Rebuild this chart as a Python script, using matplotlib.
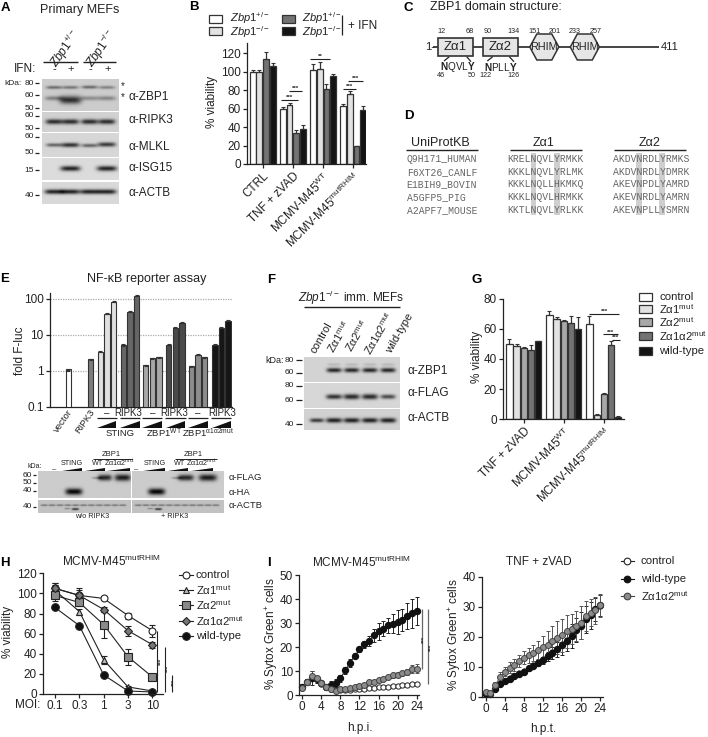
import numpy as np
import matplotlib
matplotlib.use("Agg")
import matplotlib.pyplot as plt
from matplotlib.patches import Rectangle, Polygon

plt.rcParams['font.family'] = ['Liberation Sans', 'DejaVu Sans']
plt.rcParams['mathtext.fontset'] = 'custom'
plt.rcParams['mathtext.rm'] = 'Liberation Sans'
plt.rcParams['mathtext.it'] = 'Liberation Sans:italic'
plt.rcParams['mathtext.bf'] = 'Liberation Sans:bold'
plt.rcParams['font.size'] = 8.5
plt.rcParams['axes.linewidth'] = 0.9
plt.rcParams['axes.edgecolor'] = '#222222'

W, H = 708, 737
DARK = '#222222'

# ======Panel B data======
b_groups = ['CTRL', 'TNF + zVAD', 'MCMV-M45$^{\\mathrm{WT}}$', 'MCMV-M45$^{\\mathrm{mutRHIM}}$']
b_het = [100, 60, 102, 63]
b_ko = [100, 64, 102.5, 76]
b_het_ifn = [114, 34, 81, 19]
b_ko_ifn = [106, 38, 95, 59]
b_het_err = [2, 2, 6, 2]
b_ko_err = [2, 2, 8, 3]
b_het_ifn_err = [7, 3, 6, 1]
b_ko_ifn_err = [4, 4, 3, 4]

# ======Panel D data======
d_ids = ['Q9H171_HUMAN', 'F6XT26_CANLF', 'E1BIH9_BOVIN', 'A5GFP5_PIG', 'A2APF7_MOUSE']
d_za1 = ['KRELNQVLYRMKK', 'KKKLNQVLYRLMK', 'KKKLNQLLHKMKQ', 'KKKLNQVLHRMKK', 'KKTLNQVLYRLKK']
d_za2 = ['AKDVNRDLYRMKS', 'AKDVNRDLYDMRK', 'AKEVNPDLYAMRD', 'AKEVNRDLYAMRN', 'AKEVNPLLYSMRN']

# ======Panel E data======
e_vector = [1]
e_ripk3 = [2]
e_sting = [3.3, 38, 82]
e_sting_r = [5, 43, 118]
e_wt = [1.35, 2.15, 2.25]
e_wt_r = [5.1, 15.5, 21.5]
e_mut = [1.25, 2.7, 2.3]
e_mut_r = [5.2, 15, 24]

# ======Panel G data======
g_groups = ['TNF + zVAD', 'MCMV-M45$^{\\mathrm{WT}}$', 'MCMV-M45$^{\\mathrm{mutRHIM}}$']
g_control = [50, 69, 63.5]
g_za1 = [48.5, 66.5, 3]
g_za2 = [47.5, 65, 17]
g_za1a2 = [46, 64, 49]
g_wt = [52, 60, 1.5]
g_control_err = [3.5, 3, 5]
g_za1_err = [1.2, 1.5, 0.4]
g_za2_err = [0.4, 1, 0.3]
g_za1a2_err = [3.5, 4.5, 3]
g_wt_err = [0.3, 8, 0.2]

# ======Panel H data======
h_moi = ['0.1', '0.3', '1', '3', '10']
h_control = [105, 98, 95, 78, 63]
h_za1 = [103, 82, 34, 7, 3]
h_za2 = [98, 91, 69, 37, 17]
h_za1a2 = [105, 98, 84, 63, 49]
h_wt = [86, 68, 19, 3, 2]
h_control_err = [5, 7, 2, 3, 6]
h_za1_err = [5, 3, 4, 1, 1]
h_za2_err = [6, 4, 13, 8, 2]
h_za1a2_err = [5, 5, 2, 5, 3]
h_wt_err = [1, 1, 1, 1, 1]

# ======Panel I data======
i_hours = list(range(25))
i1_wt = [3.5, 5.5, 7, 6.5, 5, 3.5, 4.2, 5, 7, 10.3, 13.3, 16.3, 19, 21.2, 22.5, 24.8, 26.5, 27.7, 29, 29.7, 30.5, 31.2, 33, 34, 35]
i1_wt_err = [1, 1, 2.8, 1.5, 1, 1, 1.5, 1.5, 1.5, 1.5, 1.5, 1, 1, 1.5, 2, 2.7, 3.4, 3.2, 3, 4, 5, 4.5, 5.5, 6, 6]
i1_mut = [3, 5.5, 8, 7, 5, 3.2, 2.3, 1.8, 2.3, 2.4, 2.8, 3.4, 3.8, 4.2, 5.3, 5.6, 6.1, 6.8, 7.4, 8.2, 8.4, 9.1, 9.5, 10.8, 11]
i1_mut_err = [1, 1, 2, 1, 1, 1, 1, 1, 0.7, 0.7, 0.7, 0.7, 0.7, 0.7, 0.8, 0.8, 0.8, 0.8, 0.9, 1, 1, 1, 1.2, 1.5, 1.8]
i1_control = [3, 5.5, 7.5, 6.5, 4.7, 3.2, 2.5, 2.2, 2.2, 2, 2.2, 2.3, 2.5, 2.6, 2.8, 3, 3.2, 3.4, 3.5, 3.7, 3.8, 4, 4.2, 4.5, 4.7]
i2_wt = [0.8, 1, 2.6, 4.2, 5.2, 6, 6.9, 7.7, 8.3, 9.5, 10.3, 11.2, 12.2, 13.5, 14.5, 15.8, 17.4, 18.7, 20.4, 22.2, 23.6, 25.8, 27.2, 29.2, 30.5]
i2_wt_err = [0.5, 0.5, 0.5, 0.5, 0.5, 0.5, 0.5, 0.5, 0.5, 0.7, 0.8, 1, 1.2, 1.5, 2, 2.5, 3.5, 3.5, 4, 4, 4.5, 4.5, 4.5, 3.8, 3.5]
i2_mut = [1.6, 1.2, 3.8, 6.6, 8.3, 9.7, 10.6, 11.8, 13, 13.9, 14.6, 15.7, 16.6, 17.4, 18.6, 19.6, 20.5, 21.8, 22.5, 23.5, 24.7, 26.8, 28, 28.8, 30.5]
i2_mut_err = [0.8, 0.7, 1, 1.5, 1.5, 1.8, 2, 2, 2.2, 2.5, 2.8, 3, 3.5, 4.5, 5, 5.5, 5.5, 5.5, 5, 5, 5.5, 5, 4.5, 4.5, 3.8]
i2_control = [0.9, 1, 2.7, 4.3, 5.3, 6.2, 7, 7.9, 8.5, 9.7, 10.5, 11.5, 12.5, 13.8, 14.8, 16, 17.6, 19, 20.7, 22.4, 23.8, 26, 27.4, 29.3, 30.4]

fig = plt.figure(figsize=(W / 100, H / 100), dpi=100, facecolor='white')


def ax_px(left, top, right, bottom):
    # axes placed by pixel box of the picture
    a = fig.add_axes([left / W, 1 - bottom / H, (right - left) / W, (bottom - top) / H])
    a.patch.set_alpha(0)
    for s in ['top', 'right']:
        a.spines[s].set_visible(False)
    a.tick_params(length=3, width=0.9, pad=1.5, color=DARK, labelcolor=DARK)
    return a


# overlay for labels, blots and other annotation
ov = fig.add_axes([0, 0, 1, 1], zorder=5)
ov.set_xlim(0, W)
ov.set_ylim(H, 0)
ov.axis('off')
ov.patch.set_alpha(0)


def txt(x, y, s, size=8.5, ha='center', va='center', **kw):
    kw.setdefault('color', DARK)
    ov.text(x, y, s, fontsize=size, ha=ha, va=va, **kw)


def seg(x0, y0, x1, y1, lw=0.9, c=DARK):
    ov.plot([x0, x1], [y0, y1], color=c, lw=lw, solid_capstyle='butt')


def blot(box, bands, bg=0.8):
    # bands are (center x, center y, half width, half height, strength)
    x0, y0, x1, y1 = box
    xs = np.linspace(x0, x1, int((x1 - x0) * 2))
    ys = np.linspace(y0, y1, int((y1 - y0) * 2))
    xx, yy = np.meshgrid(xs, ys)
    img = np.full(xx.shape, bg, dtype=float)
    for cx, cy, hw, hh, s in bands:
        img -= s * np.exp(-np.abs((xx - cx) / hw) ** 4) * np.exp(-((yy - cy) / hh) ** 2)
    ov.imshow(np.clip(img, 0, 1), extent=(x0, x1, y1, y0), cmap='gray', vmin=0, vmax=1,
              aspect='auto', interpolation='bilinear', zorder=1)
    ov.set_xlim(0, W)
    ov.set_ylim(H, 0)


def ladder(items, xr, x0, x1):
    for label, y in items:
        txt(xr, y, label, size=6, ha='right')
        seg(x0, y, x1, y)


def sig(x0, x1, y, star_y=None):
    seg(x0, y, x1, y, lw=0.8)
    txt((x0 + x1) / 2, y - 2.2 if star_y is None else star_y, '***', size=4.5, fontweight='bold')


# ======Panel A======
txt(5, 8, 'A', size=9.5, fontweight='bold', color='black')
txt(80, 10, 'Primary MEFs', size=9)
txt(66, 49, '$\\mathit{Zbp1}^{+/-}$', rotation=55, size=8.5)
txt(102, 49, '$\\mathit{Zbp1}^{-/-}$', rotation=55, size=8.5)
seg(43.3, 61.7, 77.7, 61.7, lw=1)
seg(82.7, 61.7, 116.3, 61.7, lw=1)
txt(36.7, 69.3, 'IFN:', ha='right', size=8.5)
a_lanes = [54.3, 70.7, 90, 107.3]
for xl, s in zip(a_lanes, ['-', '+', '-', '+']):
    txt(xl, 69.3, s, size=8)
blot((42.3, 79, 119.3, 111), [(a_lanes[0], 87.3, 8, 1.6, .38), (a_lanes[1], 87.3, 8, 1.6, .35),
                             (a_lanes[2], 87, 8, 1.6, .4), (a_lanes[3], 87.3, 8, 1.6, .3),
                             (a_lanes[0], 98.3, 9, 2.2, .3), (a_lanes[1], 100, 11, 4, .62),
                             (a_lanes[2], 98.3, 9, 2.2, .25), (a_lanes[3], 98.3, 9, 2.2, .28)], bg=.8)
blot((42.3, 112.3, 119.3, 131.7), [(x, 121.7, 8.5, 2.5, .65) for x in a_lanes], bg=.82)
blot((42.3, 133.3, 119.3, 156.7), [(a_lanes[0], 145, 8, 1.8, .45), (a_lanes[1], 145, 9, 2.2, .65),
                                  (a_lanes[2], 145.5, 8, 1.8, .45), (a_lanes[3], 144.5, 9, 2.2, .62)], bg=.84)
blot((42.3, 158.7, 119.3, 180.3), [(a_lanes[1], 169, 10, 2.6, .72), (a_lanes[3], 169, 10, 2.6, .72)], bg=.86)
blot((42.3, 182, 119.3, 204), [(x, 191.7, 9.5, 2.4, .72) for x in a_lanes], bg=.85)
txt(4, 83.3, 'kDa:', size=6, ha='left')
ladder([('80', 83.3), ('60', 95), ('50', 108.3), ('60', 115.7), ('50', 128.3), ('60', 136.7),
        ('50', 152.7), ('15', 170), ('40', 195)], 34.3, 35.3, 39.3)
for y, s in [(96.7, 'ZBP1'), (120, 'RIPK3'), (146.7, 'MLKL'), (168.3, 'ISG15'), (193.3, 'ACTB')]:
    txt(128.3, y, 'α-' + s, ha='left', size=8.5)
txt(123, 86.5, '*', size=7)
txt(123, 97, '*', size=7)

# ======Panel B======
txt(194, 7, 'B', size=9.5, fontweight='bold', color='black')
axb = ax_px(247, 43.3, 366, 164)
b_colors = ['white', '#e2e2e2', '#737373', '#141414']
b_series = [(b_het, b_het_err), (b_ko, b_ko_err), (b_het_ifn, b_het_ifn_err), (b_ko_ifn, b_ko_ifn_err)]
b_step = 4.5
for j, (vals, errs) in enumerate(b_series):
    xs = [g * b_step + j for g in range(len(b_groups))]
    axb.bar(xs, vals, width=0.86, color=b_colors[j], edgecolor='#333333', linewidth=0.9)
    axb.errorbar(xs, vals, yerr=[[0] * len(errs), errs], fmt='none', ecolor='#333333', elinewidth=0.9,
                 capsize=1.3, capthick=0.8)
axb.set_xlim(-0.84, 16.9)
axb.set_ylim(0, 130.9)
axb.set_yticks(range(0, 121, 20))
axb.set_xticks([g * b_step + 1.5 for g in range(len(b_groups))])
axb.set_xticklabels(b_groups, rotation=45, ha='right', rotation_mode='anchor', fontsize=8.5)
txt(211.7, 101.7, '% viability', rotation=90, size=8.5)
for x0, x1, y, c in [(209, 222.3, 15, 'white'), (209, 222.3, 27.3, '#e2e2e2'),
                     (281.7, 295, 15, '#737373'), (281.7, 295, 27.3, '#141414')]:
    ov.add_patch(Rectangle((x0, y), x1 - x0, 8, fc=c, ec='#333333', lw=0.9))
for x in [230, 301.7]:
    txt(x, 18.5, '$\\mathit{Zbp1}^{+/-}$', ha='left', size=8)
    txt(x, 32, '$\\mathit{Zbp1}^{-/-}$', ha='left', size=8)
seg(341.7, 15, 341.7, 35, lw=0.9)
txt(348.3, 26, '+ IFN', ha='left', size=8.5)
sig(281, 298.3, 100)
sig(289.3, 301.7, 91)
seg(310, 59.3, 330, 59.3, lw=0.8)
txt(320, 56.5, '**', size=4.5, fontweight='bold')
sig(342.7, 356, 89)
sig(348.3, 362.7, 81)

# ======Panel C======
txt(408.5, 7.5, 'C', size=9.5, fontweight='bold', color='black')
txt(430, 6.7, 'ZBP1 domain structure:', ha='left', size=9)
seg(433.3, 47, 659.3, 47, lw=1.4, c='#444444')
for x0, x1, s in [(438, 472.7, 'Zα1'), (483, 518, 'Zα2')]:
    ov.add_patch(Rectangle((x0, 38), x1 - x0, 18, fc='#e6e6e6', ec='#333333', lw=1.2, zorder=3))
    ov.text((x0 + x1) / 2, 47, s, fontsize=9.5, ha='center', va='center', color=DARK, zorder=4)
for cx in [544.3, 584.8]:
    hexa = [(cx - 14.5, 47), (cx - 7.5, 34), (cx + 7.5, 34), (cx + 14.5, 47), (cx + 7.5, 60), (cx - 7.5, 60)]
    ov.add_patch(Polygon(hexa, closed=True, fc='#e6e6e6', ec='#333333', lw=1.1, zorder=3))
    ov.text(cx, 47, 'RHIM', fontsize=7.8, ha='center', va='center', color=DARK, zorder=4)
for x, s in [(441.7, '12'), (470, '68'), (487.3, '90'), (514, '134'), (534.3, '151'), (554.3, '201'),
             (575, '233'), (596, '257')]:
    txt(x, 31.7, s, size=5.2)
txt(430, 47, '1-', size=8, ha='center')
txt(670, 47, '411', size=8)
txt(458.3, 66.7, '$\\mathbf{N}$QVL$\\mathbf{Y}$', size=7.2)
txt(501, 66.7, '$\\mathbf{N}$PLL$\\mathbf{Y}$', size=7.2)
for x, s in [(441, '46'), (471.7, '50'), (485.7, '122'), (513.3, '126')]:
    txt(x, 75.3, s, size=5.2)
seg(449.3, 56.7, 444, 61)
seg(466.7, 56.7, 471, 61.7)
seg(492.7, 56.7, 487.3, 61)
seg(509.3, 56.7, 514, 61.7)

# ======Panel D======
txt(408.7, 116.3, 'D', size=9.5, fontweight='bold', color='black')
txt(440.7, 142.7, 'UniProtKB', size=9)
txt(544, 142.7, 'Zα1', size=9)
txt(650, 142.7, 'Zα2', size=9)
seg(406, 150.3, 477.7, 150.3, lw=1)
seg(510.3, 150.3, 581.7, 150.3, lw=1)
seg(614.3, 150.3, 686, 150.3, lw=1)
d_rows = [159, 171.7, 184.3, 197, 210]
d_char = 5.82
for left in [507.3, 612.7]:
    for col in [4, 8]:
        ov.add_patch(Rectangle((left + col * d_char, 152.7), d_char, 62.3, fc='#cfcfcf', ec='none', zorder=1))
for y, name, s1, s2 in zip(d_rows, d_ids, d_za1, d_za2):
    txt(406.7, y, name, size=7, ha='left', family='Liberation Mono', color='#666666', zorder=3)
    txt(507.3, y, s1, size=7, ha='left', family='Liberation Mono', color='#666666', zorder=3)
    txt(612.7, y, s2, size=7, ha='left', family='Liberation Mono', color='#666666', zorder=3)

# ======Panel E======
txt(4.7, 279.3, 'E', size=9.5, fontweight='bold', color='black')
txt(146.7, 279.3, 'NF-κB reporter assay', size=9)
axe = ax_px(50, 292.7, 232, 406.7)
e_sets = [e_vector, e_ripk3, e_sting, e_sting_r, e_wt, e_wt_r, e_mut, e_mut_r]
e_cols = ['white', '#7d7d7d', '#e0e0e0', '#666666', '#a8a8a8', '#4a4a4a', '#8c8c8c', '#161616']
e_starts = [-3.42, 0, 1.47, 4.98, 8.38, 11.87, 15.3, 18.9]
for vals, col, st in zip(e_sets, e_cols, e_starts):
    xs = [st + i for i in range(len(vals))]
    axe.bar(xs, vals, width=0.82, bottom=0.1, color=col, edgecolor='#333333', linewidth=0.8, zorder=3)
    axe.errorbar(xs, vals, yerr=[[0] * len(vals), [v * 0.07 for v in vals]], fmt='none', ecolor='#333333',
                 elinewidth=0.8, capsize=1.1, capthick=0.8, zorder=3)
axe.set_yscale('log')
axe.set_ylim(0.1, 147)
axe.set_xlim(-6.2, 21.5)
axe.set_yticks([0.1, 1, 10, 100])
axe.set_yticklabels(['0.1', '1', '10', '100'])
axe.minorticks_off()
axe.set_xticks([])
for v in [1, 10, 100]:
    axe.axhline(v, color='#aaaaaa', lw=0.9, ls=(0, (1, 1)), zorder=1)
txt(20, 351, 'fold F-luc', rotation=90, size=8.5)
txt(63.3, 421, 'vector', rotation=55, size=6.8)
txt(85, 421, 'RIPK3', rotation=55, size=6.8)
for x, s in [(106.7, '–'), (128.3, 'RIPK3'), (152.3, '–'), (174.3, 'RIPK3'), (197.7, '–'), (221.7, 'RIPK3')]:
    txt(x, 413.3, s, size=7)
for x0, x1 in [(96.5, 116.5), (119.5, 140), (141.7, 162.3), (165, 185.7), (187.7, 208.3), (211, 231)]:
    seg(x0, 418.3, x1, 418.3, lw=0.9)
    ov.add_patch(Polygon([(x0 + 0.5, 427.5), (x1 - 0.5, 427.5), (x1 - 0.5, 420.5)], closed=True, fc='#111111', ec='none'))
txt(120, 433.7, 'STING', size=6.8)
txt(164.3, 433.7, 'ZBP1$^{\\mathrm{WT}}$', size=6.8)
txt(208.3, 433.7, 'ZBP1$^{\\mathrm{\\alpha1\\alpha2mut}}$', size=6.8)

# lower blots of E
e_flag_l = [(97, 478.3, 5, 1, .25), (105, 478, 7, 3, .65), (123, 478, 8, 3.3, .7)]
e_flag_r = [(177, 478.3, 5, 1, .25), (186, 478, 8, 3, .65), (208, 478, 9, 3.3, .7)]
for x0, x1, flag, ha_x, actb in [(38.3, 131, e_flag_l, 74, 71.5), (132.3, 224, e_flag_r, 156.7, 154.5)]:
    blot((x0, 471.7, x1, 485), flag, bg=.8)
    blot((x0, 486, x1, 498.3), [(ha_x, 492.3, 8.5, 3.2, .78)], bg=.8)
    lanes = [x0 + 6 + i * (x1 - x0 - 10) / 10.5 for i in range(11)]
    blot((x0, 500, x1, 512.7), [(xl, 505, 3.5, 0.9, .32) for xl in lanes] + [(actb + 4, 509, 3.5, 1, .6), (actb - 4, 508.5, 3, .6, .3)], bg=.76)
txt(111, 454.3, 'ZBP1', size=5.5)
txt(193.3, 454.3, 'ZBP1', size=5.5)
seg(92.7, 459, 132, 459, lw=0.7)
seg(175, 459, 216.7, 459, lw=0.7)
for x, s in [(71.7, 'STING'), (155, 'STING'), (97.3, 'WT'), (180, 'WT'),
             (120, 'Zα1α2$^{\\mathrm{mut}}$'), (201.7, 'Zα1α2$^{\\mathrm{mut}}$')]:
    txt(x, 463.3, s, size=5.2)
txt(35, 466, 'kDa:', size=5)
txt(54, 470, '–', size=5.5)
txt(135.7, 470, '–', size=5.5)
for x0, x1 in [(61.7, 81.7), (85, 105), (107, 130), (143, 165), (168, 188), (190.7, 213)]:
    ov.add_patch(Polygon([(x0, 471), (x1, 471), (x1, 467.5)], closed=True, fc='#111111', ec='none'))
ladder([('60', 475), ('50', 482.7), ('40', 490.7), ('40', 506.7)], 32, 33, 36)
for y, s in [(477.3, 'FLAG'), (492.3, 'HA'), (505, 'ACTB')]:
    txt(228.3, y, 'α-' + s, size=6.8, ha='left')
txt(91.7, 517, 'w/o RIPK3', size=5.2)
txt(175, 517, '+ RIPK3', size=5.2)

# ======Panel F======
txt(270.7, 280, 'F', size=9.5, fontweight='bold', color='black')
txt(351.7, 297.7, '$\\mathit{Zbp1}^{-/-}$ imm. MEFs', size=8.5)
seg(304, 306.7, 400, 306.7, lw=1)
for x, y, s in [(321.7, 337.5, 'control'), (339, 336.5, 'Zα1$^{\\mathrm{mut}}$'), (357, 336, 'Zα2$^{\\mathrm{mut}}$'),
                (379, 333, 'Zα1α2$^{\\mathrm{mut}}$'), (400, 333.5, 'wild-type')]:
    txt(x, y, s, rotation=60, size=8)
f_lanes = [334, 351.7, 370, 388.3]
blot((304, 357.7, 400, 382.3), [(x, 370.7, 7.5, 2.3, .68) for x in f_lanes] + [(x, 365, 6.5, 1.5, .1) for x in f_lanes], bg=.83)
blot((304, 383.3, 400, 407.7), [(f_lanes[0], 396.7, 8, 2.4, .65), (f_lanes[1], 396.7, 8, 2.7, .68),
                               (f_lanes[2], 396.7, 8, 2.7, .68), (f_lanes[3], 396.7, 7.5, 2.2, .55)], bg=.84)
blot((304, 410, 400, 430.3), [(316.7, 421, 7, 2, .6)] + [(x, 421, 8, 2.4, .7) for x in f_lanes], bg=.82)
txt(265, 360, 'kDa:', size=6.5, ha='left')
ladder([('80', 360), ('60', 372.7), ('80', 385.7), ('60', 400), ('40', 424)], 294.3, 296, 301.7)
for y, s in [(370.7, 'ZBP1'), (393.3, 'FLAG'), (418.3, 'ACTB')]:
    txt(407.7, y, 'α-' + s, size=8.5, ha='left')

# ======Panel G======
txt(476.7, 280, 'G', size=9.5, fontweight='bold', color='black')
axg = ax_px(503, 299, 624, 419)
g_colors = ['white', '#e2e2e2', '#a8a8a8', '#737373', '#141414']
g_series = [(g_control, g_control_err), (g_za1, g_za1_err), (g_za2, g_za2_err), (g_za1a2, g_za1a2_err), (g_wt, g_wt_err)]
g_step = 40 / 7.2
for j, (vals, errs) in enumerate(g_series):
    xs = [g * g_step + j for g in range(len(g_groups))]
    axg.bar(xs, vals, width=0.88, color=g_colors[j], edgecolor='#333333', linewidth=0.9)
    axg.errorbar(xs, vals, yerr=[[0] * len(errs), errs], fmt='none', ecolor='#333333', elinewidth=0.9,
                 capsize=1.3, capthick=0.8)
axg.set_xlim(-0.88, 15.9)
axg.set_ylim(0, 80)
axg.set_yticks(range(0, 81, 20))
axg.set_xticks([g * g_step + 2 for g in range(len(g_groups))])
axg.set_xticklabels(g_groups, rotation=45, ha='right', rotation_mode='anchor', fontsize=8.5)
txt(476.7, 356.7, '% viability', rotation=90, size=8.5)
g_leg_y = [296.7, 309, 322.3, 336, 350.7]
g_leg = ['control', 'Zα1$^{\\mathrm{mut}}$', 'Zα2$^{\\mathrm{mut}}$', 'Zα1α2$^{\\mathrm{mut}}$', 'wild-type']
for y, c, s in zip(g_leg_y, g_colors, g_leg):
    ov.add_patch(Rectangle((639, y - 4), 13.3, 8, fc=c, ec='#333333', lw=0.9))
    txt(659, y, s, ha='left', size=8.2)
sig(589, 619.3, 314)
sig(603.3, 618.3, 334.3, star_y=332.5)
sig(611.7, 620, 340, star_y=337.5)

# ======Panel H======
txt(5, 562.7, 'H', size=9.5, fontweight='bold', color='black')
txt(111.7, 561.7, 'MCMV-M45$^{\\mathrm{mutRHIM}}$', size=8.5)
axh = ax_px(43.3, 573.3, 163.3, 694)
h_x = list(range(len(h_moi)))
h_series = [(h_control, h_control_err, 'o', 'white', 5),
            (h_za1, h_za1_err, '^', '#bdbdbd', 5),
            (h_za2, h_za2_err, 's', '#8a8a8a', 6),
            (h_za1a2, h_za1a2_err, 'D', '#777777', 4.2),
            (h_wt, h_wt_err, 'o', '#111111', 5.5)]
for vals, errs, mk, fc, ms in h_series:
    axh.errorbar(h_x, vals, yerr=errs, color='#222222', lw=0.8, marker=mk, mfc=fc, mec='#222222', mew=0.8,
                 ms=ms, elinewidth=0.8, capsize=2, capthick=0.8, clip_on=False)
axh.set_xlim(-0.48, 4.45)
axh.set_ylim(0, 120)
axh.set_yticks(range(0, 121, 20))
axh.set_xticks(h_x)
axh.set_xticklabels(h_moi, fontsize=8.5)
txt(27.3, 705.5, 'MOI:', size=8.5)
txt(8.3, 631.7, '% viability', rotation=90, size=8.5)
h_leg_y = [575, 590, 605.3, 620.7, 635.7]
h_leg = ['control', 'Zα1$^{\\mathrm{mut}}$', 'Zα2$^{\\mathrm{mut}}$', 'Zα1α2$^{\\mathrm{mut}}$', 'wild-type']
for y, ser, s in zip(h_leg_y, h_series, h_leg):
    ov.plot([179.3, 192.7], [y, y], color='#222222', lw=0.8)
    ov.plot([186], [y], marker=ser[2], mfc=ser[3], mec='#222222', mew=0.8, ms=ser[4], ls='none')
    txt(195.7, y, s, ha='left', size=8.2)
for x, y0, sx, sy in [(157.3, 631, 161, 661.7), (164.7, 646.7, 168.3, 668.3), (171.7, 675, 174.7, 682.7)]:
    seg(x, y0, x, 692.3, lw=0.8)
    txt(sx, sy, '***', rotation=90, size=4.5, fontweight='bold')

# ======Panel I======
txt(269.3, 562.7, 'I', size=9.5, fontweight='bold', color='black')
txt(361.7, 562.3, 'MCMV-M45$^{\\mathrm{mutRHIM}}$', size=8.5)
txt(539.3, 562.3, 'TNF + zVAD', size=8.5)
axi1 = ax_px(299.3, 575, 419.3, 695)
axi2 = ax_px(482, 576.7, 603.3, 696.7)
axi1.plot(i_hours, i1_control, color='#333333', lw=0.7, marker='o', mfc='white', mec='#222222', mew=0.7, ms=3.8, clip_on=False)
axi1.errorbar(i_hours, i1_wt, yerr=i1_wt_err, color='#222222', lw=0.7, marker='o', mfc='#111111', mec='#111111', ms=4.3,
              elinewidth=0.7, capsize=1.5, capthick=0.7, clip_on=False)
axi1.errorbar(i_hours, i1_mut, yerr=i1_mut_err, color='#555555', lw=0.7, marker='o', mfc='#8c8c8c', mec='#444444', mew=0.7,
              ms=4.3, elinewidth=0.7, capsize=1.5, capthick=0.7, clip_on=False)
axi2.plot(i_hours, i2_control, color='#333333', lw=0.7, marker='o', mfc='white', mec='#222222', mew=0.7, ms=3.8, clip_on=False)
axi2.errorbar(i_hours, i2_wt, yerr=i2_wt_err, color='#222222', lw=0.7, marker='o', mfc='#111111', mec='#111111', ms=4.3,
              elinewidth=0.7, capsize=1.5, capthick=0.7, clip_on=False)
axi2.errorbar(i_hours, i2_mut, yerr=i2_mut_err, color='#555555', lw=0.7, marker='o', mfc='#8c8c8c', mec='#444444', mew=0.7,
              ms=4.3, elinewidth=0.7, capsize=1.5, capthick=0.7, clip_on=False)
axi1.set_xlim(-0.63, 24.55)
axi1.set_ylim(0, 50)
axi2.set_xlim(-0.78, 24.65)
axi2.set_ylim(0, 40)
axi1.set_yticks(range(0, 51, 10))
axi2.set_yticks(range(0, 41, 10))
for a in [axi1, axi2]:
    a.set_xticks(range(0, 25, 4))
txt(271.7, 633.3, '% Sytox Green$^{+}$ cells', rotation=90, size=8.5)
txt(455, 635, '% Sytox Green$^{+}$ cells', rotation=90, size=8.5)
txt(360, 728.3, 'h.p.i.', size=8.5)
txt(543.3, 729.3, 'h.p.t.', size=8.5)
seg(421.7, 609.3, 421.7, 669.3, lw=0.9, c='#666666')
seg(428.3, 609.3, 428.3, 684.3, lw=0.9, c='#666666')
txt(424.5, 639.3, '***', rotation=90, size=4.5, fontweight='bold')
txt(431.7, 647.3, '***', rotation=90, size=4.5, fontweight='bold')
i_leg = [(560.7, 'control', 'white', '#222222'), (579, 'wild-type', '#111111', '#111111'),
         (596, 'Zα1α2$^{\\mathrm{mut}}$', '#8c8c8c', '#444444')]
for y, s, fc, ec in i_leg:
    ov.plot([620.7, 634], [y, y], color=ec, lw=0.8)
    ov.plot([627.3], [y], marker='o', mfc=fc, mec=ec, mew=0.8, ms=4.8, ls='none')
    txt(640.7, y, s, ha='left', size=8.2)

fig.savefig('out.png', dpi=100)
